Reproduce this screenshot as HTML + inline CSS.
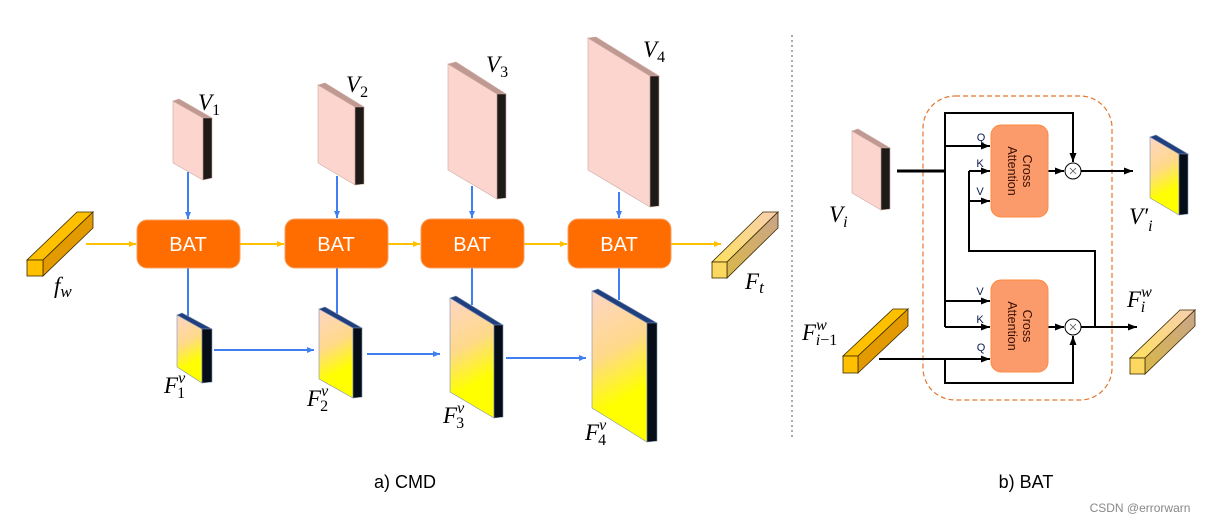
<!DOCTYPE html>
<html><head><meta charset="utf-8"><style>
html,body{margin:0;padding:0;background:#fff}
svg{display:block}
.m{font-family:"Liberation Serif",serif;font-style:italic;fill:#000}
.s{font-family:"Liberation Sans",sans-serif}
</style></head><body>
<svg width="1215" height="523" viewBox="0 0 1215 523" xmlns="http://www.w3.org/2000/svg">
<defs>
<linearGradient id="gf" x1="0" y1="0" x2="0.2" y2="1">
<stop offset="0" stop-color="#fdd5c5"/><stop offset="0.45" stop-color="#fed98a"/><stop offset="0.8" stop-color="#ffff00"/><stop offset="1" stop-color="#ffff00"/></linearGradient>
<linearGradient id="gt" x1="0" y1="1" x2="1" y2="0"><stop offset="0" stop-color="#fde060"/><stop offset="1" stop-color="#f8cfb0"/></linearGradient>
<linearGradient id="gts" x1="0" y1="1" x2="1" y2="0"><stop offset="0" stop-color="#d9b84a"/><stop offset="1" stop-color="#c9a48a"/></linearGradient>
<marker id="ab" markerWidth="8" markerHeight="8" refX="7" refY="4" orient="auto" markerUnits="userSpaceOnUse"><path d="M0,1 L7,4 L0,7z" fill="#3f7fef"/></marker>
<marker id="ay" markerWidth="8" markerHeight="8" refX="7" refY="4" orient="auto" markerUnits="userSpaceOnUse"><path d="M0,1 L7,4 L0,7z" fill="#ffc000"/></marker>
<marker id="ak" markerWidth="10" markerHeight="8" refX="9" refY="4" orient="auto" markerUnits="userSpaceOnUse"><path d="M0,0.5 L9,4 L0,7.5z" fill="#000"/></marker>
</defs>

<g stroke="#c9a8a0" stroke-width="0.6">
<polygon points="173,101 203,118 203,180 173,163" fill="#fdd5cf"/>
<polygon points="173,101 179,99 212,118 203,118" fill="#c09a92"/>
<polygon points="203,118 212,118 212,178 203,180" fill="#1e1a17"/>

<polygon points="318,85 355,107 355,185 318,163" fill="#fdd5cf"/>
<polygon points="318,85 325,83 364,107 355,107" fill="#c09a92"/>
<polygon points="355,107 364,107 364,184 355,185" fill="#1e1a17"/>

<polygon points="448,64 497,94 497,199 448,170" fill="#fdd5cf"/>
<polygon points="448,64 456,62 506,94 497,94" fill="#c09a92"/>
<polygon points="497,94 506,94 506,198 497,199" fill="#1e1a17"/>

<polygon points="588,38 650,76 650,207 588,170" fill="#fdd5cf"/>
<polygon points="588,38 596,37 659,76 650,76" fill="#c09a92"/>
<polygon points="650,76 659,76 659,206 650,207" fill="#1e1a17"/>
</g>

<g stroke="#3f7fef" stroke-width="2" fill="none">
<line x1="188" y1="172" x2="188" y2="219" marker-end="url(#ab)"/>
<line x1="337" y1="176" x2="337" y2="218" marker-end="url(#ab)"/>
<line x1="472" y1="186" x2="472" y2="218" marker-end="url(#ab)"/>
<line x1="619" y1="192" x2="619" y2="218" marker-end="url(#ab)"/>
<line x1="188" y1="268" x2="188" y2="318"/>
<line x1="337" y1="268" x2="337" y2="314"/>
<line x1="472" y1="268" x2="472" y2="305"/>
<line x1="619" y1="268" x2="619" y2="300"/>
<line x1="214" y1="350" x2="314" y2="350" marker-end="url(#ab)"/>
<line x1="367" y1="354" x2="440" y2="354" marker-end="url(#ab)"/>
<line x1="506" y1="358" x2="586" y2="358" marker-end="url(#ab)"/>
</g>
<g stroke="#ffc000" stroke-width="2" fill="none">
<line x1="86" y1="244" x2="136" y2="244" marker-end="url(#ay)"/>
<line x1="240" y1="244" x2="284" y2="244" marker-end="url(#ay)"/>
<line x1="388" y1="244" x2="420" y2="244" marker-end="url(#ay)"/>
<line x1="524" y1="244" x2="567" y2="244" marker-end="url(#ay)"/>
<line x1="671" y1="244" x2="721" y2="244" marker-end="url(#ay)"/>
</g>
<g fill="#ff6d00" stroke="#f4a060" stroke-width="1">
<rect x="137" y="220" width="103" height="48" rx="10"/>
<rect x="285" y="219" width="103" height="49" rx="10"/>
<rect x="421" y="219" width="103" height="49" rx="10"/>
<rect x="568" y="219" width="103" height="49" rx="10"/>
</g>
<g class="s" fill="#fff" font-size="20" text-anchor="middle">
<text x="188" y="251">BAT</text><text x="336" y="251">BAT</text><text x="472" y="251">BAT</text><text x="619" y="251">BAT</text>
</g>

<g stroke="#7f8fb0" stroke-width="0.6">
<polygon points="177,315 202,329 202,383 177,367" fill="url(#gf)"/>
<polygon points="177,315 182,313 212,329 202,329" fill="#1f3f7f"/>
<polygon points="202,329 212,329 212,382 202,383" fill="#050d18"/>

<polygon points="319,309 353,328 353,398 319,379" fill="url(#gf)"/>
<polygon points="319,309 325,307 362,328 353,328" fill="#1f3f7f"/>
<polygon points="353,328 362,328 362,397 353,398" fill="#050d18"/>

<polygon points="450,298 494,325 494,418 450,392" fill="url(#gf)"/>
<polygon points="450,298 456,296 503,325 494,325" fill="#1f3f7f"/>
<polygon points="494,325 503,325 503,417 494,418" fill="#050d18"/>

<polygon points="592,291 647,323 647,442 592,408" fill="url(#gf)"/>
<polygon points="592,291 598,289 657,323 647,323" fill="#1f3f7f"/>
<polygon points="647,323 657,323 657,441 647,442" fill="#050d18"/>
</g>

<g stroke="#3a2a00" stroke-width="0.8">
<polygon points="27,260 43,260 93,212 77,212" fill="#ffc000"/>
<polygon points="43,260 43,276 93,228 93,212" fill="#e29a00"/>
<rect x="27" y="260" width="16" height="16" fill="#ffc000"/>

<polygon points="712,262 727,262 778,212 763,212" fill="url(#gt)"/>
<polygon points="727,262 727,278 778,228 778,212" fill="url(#gts)"/>
<rect x="712" y="262" width="15" height="16" fill="#fdd860"/>

<polygon points="843,356 858,356 908,309 893,309" fill="#ffc000"/>
<polygon points="858,356 858,373 908,326 908,309" fill="#e29a00"/>
<rect x="843" y="356" width="15" height="17" fill="#ffc000"/>

<polygon points="1130,358 1145,358 1195,310 1180,310" fill="url(#gt)"/>
<polygon points="1145,358 1145,374 1195,326 1195,310" fill="url(#gts)"/>
<rect x="1130" y="358" width="15" height="16" fill="#fdd860"/>
</g>

<g class="m" font-size="23">
<text x="198" y="110">V<tspan font-style="normal" font-size="16" dy="5">1</tspan></text>
<text x="346" y="92">V<tspan font-style="normal" font-size="16" dy="5">2</tspan></text>
<text x="486" y="72">V<tspan font-style="normal" font-size="16" dy="5">3</tspan></text>
<text x="643" y="57">V<tspan font-style="normal" font-size="16" dy="5">4</tspan></text>
<text x="54" y="293">f<tspan font-size="17" dy="4">w</tspan></text>
<text x="745" y="289">F<tspan font-size="17" dy="4">t</tspan></text>
<text x="164" y="393">F<tspan font-size="16" dy="-10">v</tspan><tspan font-style="normal" font-size="16" dx="-8" dy="15">1</tspan></text>
<text x="307" y="406">F<tspan font-size="16" dy="-10">v</tspan><tspan font-style="normal" font-size="16" dx="-8" dy="15">2</tspan></text>
<text x="443" y="423">F<tspan font-size="16" dy="-10">v</tspan><tspan font-style="normal" font-size="16" dx="-8" dy="15">3</tspan></text>
<text x="585" y="440">F<tspan font-size="16" dy="-10">v</tspan><tspan font-style="normal" font-size="16" dx="-8" dy="15">4</tspan></text>
</g>
<g class="s" font-size="18" fill="#000" text-anchor="middle">
<text x="405" y="488">a) CMD</text><text x="1026" y="488">b) BAT</text>
</g>
<text x="1140" y="512" class="s" font-size="12" fill="#888" text-anchor="middle">CSDN @errorwarn</text>
<line x1="792" y1="35" x2="792" y2="440" stroke="#555" stroke-width="1" stroke-dasharray="2,3"/>

<rect x="923" y="96" width="189" height="304" rx="32" fill="none" stroke="#e07830" stroke-width="1.2" stroke-dasharray="5,3"/>
<g stroke="#c9a8a0" stroke-width="0.6">
<polygon points="852,131 881,148 881,210 852,193" fill="#fdd5cf"/>
<polygon points="852,131 858,129 890,148 881,148" fill="#c09a92"/>
<polygon points="881,148 890,148 890,209 881,210" fill="#1e1a17"/>
</g>
<g stroke="#7f8fb0" stroke-width="0.6">
<polygon points="1150,137 1179,154 1179,215 1150,198" fill="url(#gf)"/>
<polygon points="1150,137 1156,135 1188,154 1179,154" fill="#1f3f7f"/>
<polygon points="1179,154 1188,154 1188,214 1179,215" fill="#050d18"/>
</g>
<g stroke="#000" stroke-width="2" fill="none">
<line x1="897" y1="171" x2="945" y2="171" stroke-width="3"/>
<polyline points="945,327 945,113 1073,113 1073,162" marker-end="url(#ak)"/>
<line x1="945" y1="146" x2="990" y2="146" marker-end="url(#ak)"/>
<line x1="969" y1="171" x2="990" y2="171" marker-end="url(#ak)"/>
<line x1="969" y1="201" x2="990" y2="201" marker-end="url(#ak)"/>
<polyline points="969,171 969,251 1095,251 1095,327"/>
<line x1="1048" y1="171" x2="1064" y2="171" marker-end="url(#ak)"/>
<line x1="1081" y1="171" x2="1133" y2="171" marker-end="url(#ak)"/>
<line x1="945" y1="301" x2="990" y2="301" marker-end="url(#ak)"/>
<line x1="945" y1="327" x2="990" y2="327" marker-end="url(#ak)"/>
<line x1="879" y1="359" x2="990" y2="359" marker-end="url(#ak)"/>
<polyline points="945,359 945,383 1073,383 1073,336" marker-end="url(#ak)"/>
<line x1="1048" y1="327" x2="1064" y2="327" marker-end="url(#ak)"/>
<line x1="1081" y1="327" x2="1137" y2="327" marker-end="url(#ak)"/>
</g>
<g fill="#fff" stroke="#000" stroke-width="1">
<circle cx="1073" cy="171" r="8"/><circle cx="1073" cy="327" r="8"/>
</g>
<g stroke="#555" stroke-width="0.8"><path d="M1070,168 l6,6 M1076,168 l-6,6 M1070,324 l6,6 M1076,324 l-6,6"/></g>
<g fill="#fb9a6a" stroke="#ff8a40" stroke-width="1">
<rect x="991" y="125" width="57" height="92" rx="10"/>
<rect x="991" y="280" width="57" height="92" rx="10"/>
</g>
<g class="s" font-size="12.5" fill="#3a0e00" text-anchor="middle">
<text transform="translate(1019,171) rotate(90)"><tspan x="0" y="-4">Cross</tspan><tspan x="0" y="11">Attention</tspan></text>
<text transform="translate(1019,326) rotate(90)"><tspan x="0" y="-4">Cross</tspan><tspan x="0" y="11">Attention</tspan></text>
</g>
<g class="s" font-size="11" fill="#0a1a50" text-anchor="middle">
<text x="981" y="141">Q</text><text x="980" y="167">K</text><text x="980" y="195">V</text>
<text x="980" y="295">V</text><text x="980" y="323">K</text><text x="981" y="351">Q</text>
</g>
<g class="m" font-size="23">
<text x="829" y="222">V<tspan font-size="16" dy="5">i</tspan></text>
<text x="1129" y="224">V′<tspan font-size="16" dy="7">i</tspan></text>
<text x="1127" y="307">F<tspan font-size="16" dy="-10">w</tspan><tspan font-size="16" dx="-11" dy="15">i</tspan></text>
<text x="802" y="340">F<tspan font-size="16" dy="-10">w</tspan><tspan font-size="16" dx="-11" dy="15">i</tspan><tspan font-style="normal" font-size="16">−1</tspan></text>
</g>
</svg>
</body></html>
